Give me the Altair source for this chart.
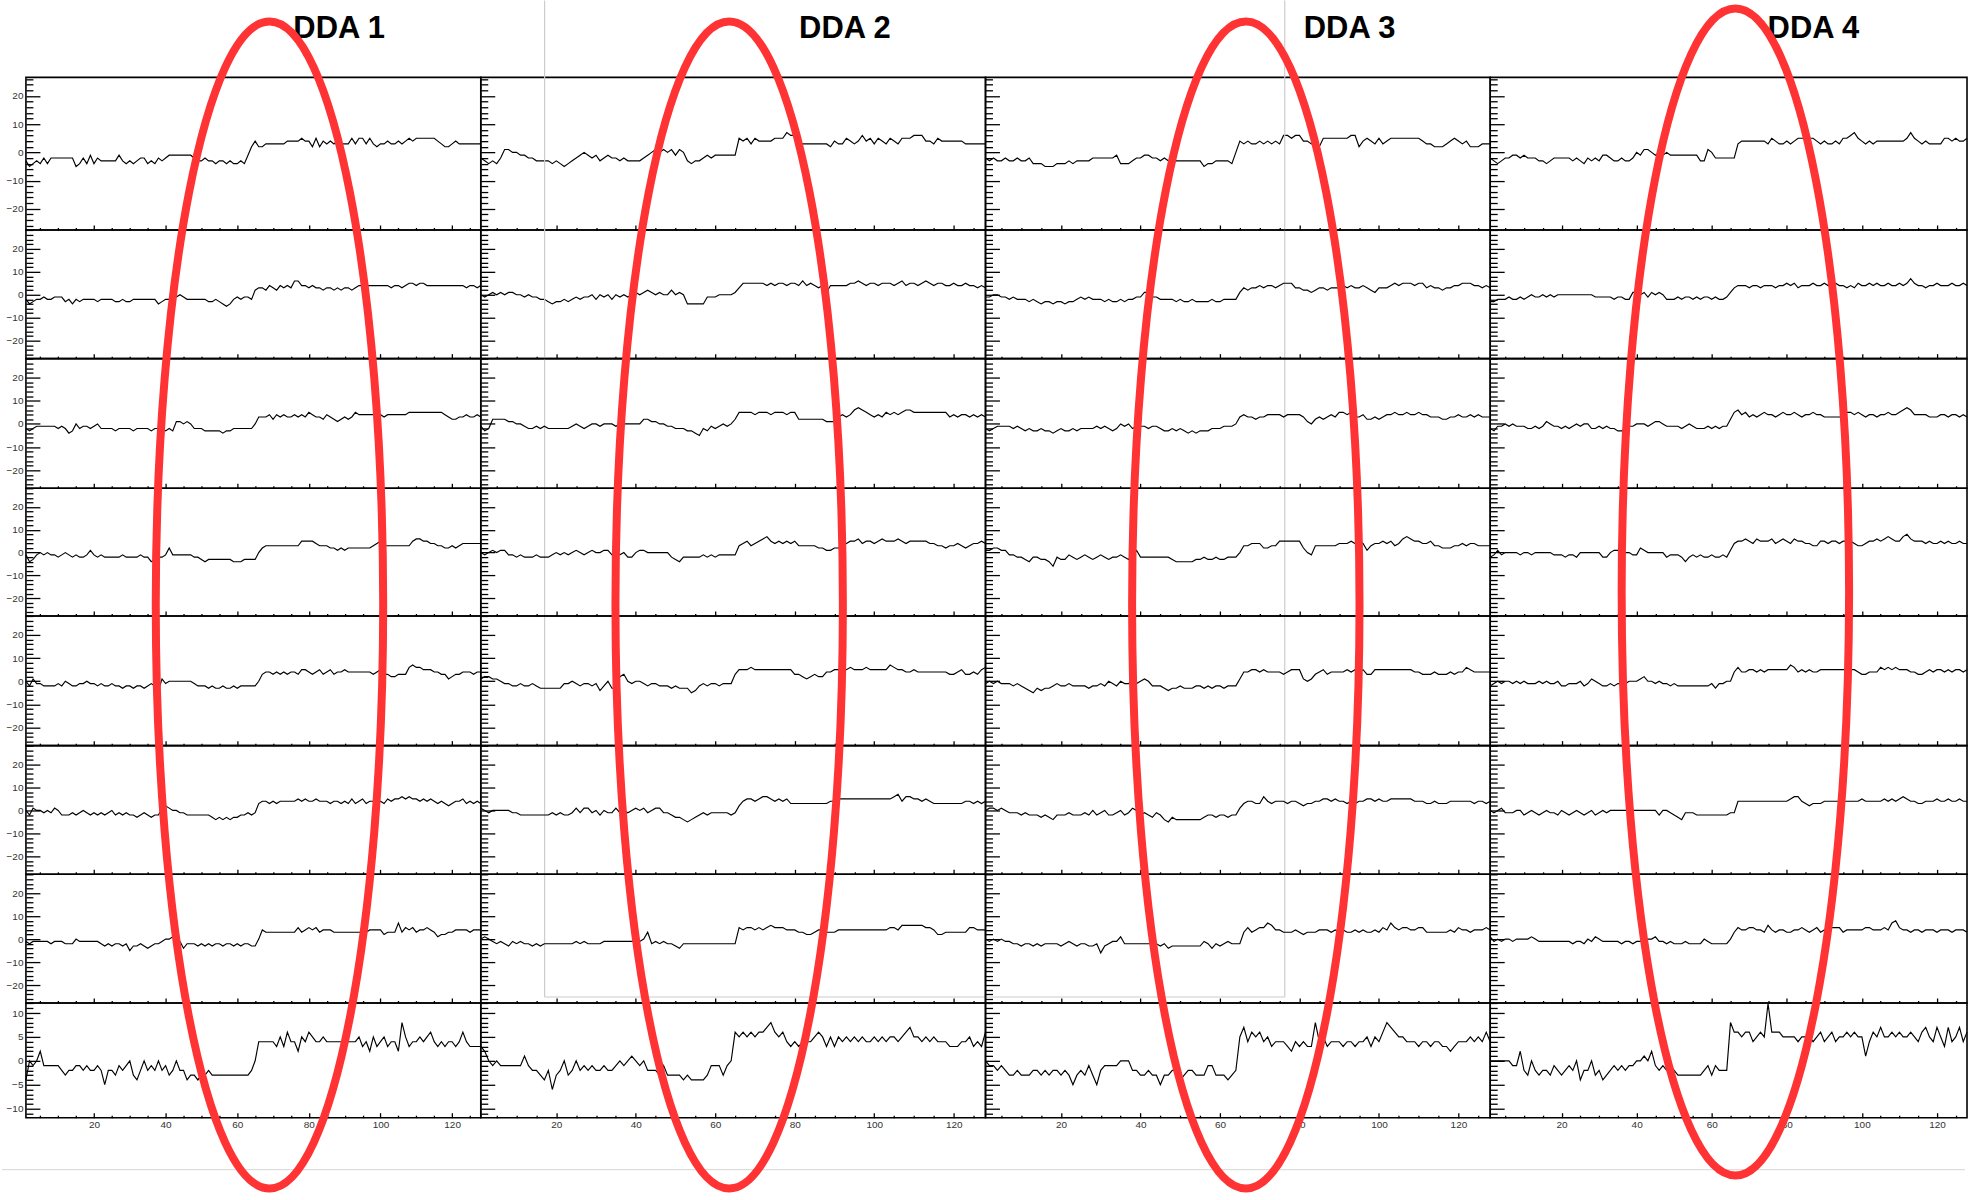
import altair as alt
import pandas as pd

# ---------------- data: 4 DDA columns x 8 channels, 128 samples each ----------------
dda1_ch1 = [-3,-5,-4,-3,-4,-2,-4,-2,-2,-2,-2,-2,-2,-2,-5,-4,-2,-4,-1,-4,-2,-3,-3,-3,-3,-3,-1,-3,-4,-3,-4,-3,-2,-2,-4,-3,-4,-2,-3,-2,-1,-1,-1,-1,-1,-1,-1,-2,-3,-3,-2,-3,-3,-4,-3,-3,-4,-3,-4,-4,-3,-4,-1,2,4,2,2,3,3,3,3,3,3,4,4,4,4,5,4,4,2,5,2,4,3,4,3,4,3,3,3,5,3,5,5,3,5,3,2,3,3,4,3,3,4,3,4,5,4,5,5,5,5,5,5,4,3,2,2,3,4,3,3,3,3,3,3,3]
dda2_ch1 = [-2,-3,-4,-3,-4,-2,1,1,0,0,-1,-1,-2,-2,-3,-3,-3,-3,-4,-3,-4,-5,-4,-3,-2,-1,0,-1,-2,-1,-3,-2,-1,-2,-2,-3,-2,-3,-3,-3,-3,-2,-1,0,1,0,1,0,1,-1,1,0,-3,-4,-3,-3,-2,-1,-2,-1,-1,-1,-1,-1,-1,5,4,5,3,5,4,4,4,4,5,5,5,7,6,6,3,3,3,3,3,3,3,3,2,4,3,3,5,4,3,4,6,4,5,3,5,4,3,5,4,3,5,5,5,6,6,6,4,4,3,5,4,4,4,4,4,4,3,3,3,3,3,3]
dda3_ch1 = [-2,-3,-2,-3,-3,-2,-3,-3,-2,-3,-3,-2,-4,-4,-4,-5,-5,-5,-4,-4,-4,-3,-4,-3,-3,-3,-3,-2,-2,-2,-2,-2,-2,-1,-4,-4,-4,-3,-2,-2,-1,-1,-2,-2,-3,-2,-3,-2,-3,-3,-3,-3,-3,-3,-3,-5,-4,-4,-3,-3,-3,-3,-4,0,4,3,4,3,3,4,3,4,3,4,3,6,6,5,6,6,4,4,3,3,2,5,5,5,5,5,5,5,6,6,2,4,5,4,3,5,3,4,5,5,5,5,5,5,5,5,4,3,3,2,2,2,3,4,5,4,3,4,2,2,2,3,3,3]
dda4_ch1 = [-2,-3,-4,-3,-2,-2,-1,-1,-2,-1,-2,-2,-2,-3,-3,-4,-3,-2,-2,-2,-2,-2,-3,-2,-3,-4,-2,-3,-2,-3,-1,-1,-2,-3,-3,-2,-3,-3,-2,0,-1,1,1,0,-1,0,-1,0,-1,-1,-1,-1,-1,-1,-1,-1,-3,-3,1,0,-2,-2,-2,-2,-2,-2,3,4,4,4,4,4,4,4,3,5,4,3,3,4,3,4,5,5,5,5,5,4,3,4,3,3,4,3,5,5,6,7,5,4,3,4,3,4,4,4,4,4,4,4,4,5,7,5,4,3,4,3,3,3,3,5,5,4,5,4,4,5]

dda1_ch2 = [-2,-4,-3,-2,-2,-1,-2,-2,-1,-1,-1,-3,-2,-4,-2,-3,-2,-2,-2,-2,-3,-2,-2,-2,-2,-3,-3,-2,-3,-3,-2,-2,-2,-2,-2,-2,-2,-4,-3,-2,-2,1,-1,0,-1,-2,-2,-2,-2,-2,-2,-3,-3,-2,-3,-4,-5,-4,-2,-1,-2,-1,-1,-2,2,3,3,2,4,3,2,4,3,4,3,6,6,4,4,3,4,3,3,2,3,3,2,3,2,3,3,2,3,4,4,4,4,4,4,4,4,4,3,4,4,3,4,5,5,4,5,5,4,4,4,4,4,4,4,4,4,4,4,3,4,4,3,4]
dda2_ch2 = [0,-1,0,1,0,1,0,1,1,0,0,-1,0,-1,-1,-2,-2,-3,-4,-3,-3,-2,-3,-2,-1,-2,-1,-1,0,-2,0,-1,0,-2,0,-1,0,-1,0,1,0,1,2,1,0,1,0,0,2,0,1,0,-4,-4,-4,-4,-4,-1,-1,-1,0,0,0,0,1,3,5,5,5,5,5,5,4,5,4,5,5,4,5,5,4,6,4,5,4,3,4,1,4,4,4,4,4,5,5,6,5,4,5,5,4,5,5,5,4,5,6,4,5,5,4,5,6,5,4,5,5,4,4,5,4,4,5,4,4,3,4,3]
dda3_ch2 = [-1,-1,0,0,-1,-1,-2,-1,-2,-2,-2,-3,-2,-3,-4,-3,-3,-4,-3,-3,-4,-3,-3,-2,-1,-2,-1,-2,-2,-2,-3,-2,-3,-3,-2,-3,-2,-2,-1,-1,1,1,-1,-1,-2,-2,-2,-2,-3,-2,-3,-3,-2,-3,-3,-3,-3,-2,-3,-3,-2,-2,-2,-2,1,3,2,3,3,4,3,4,4,3,4,5,5,5,3,3,2,2,1,2,3,3,2,3,3,3,4,3,4,3,3,4,3,2,1,3,3,3,4,5,4,5,5,5,4,5,5,3,4,3,3,2,3,3,4,4,5,5,5,4,4,3,4,3]
dda4_ch2 = [-3,-3,-2,-2,-2,-1,-2,-2,-1,-2,-1,0,-1,-1,0,-1,0,-1,0,0,0,0,0,0,0,0,0,0,-1,-1,-1,-1,-1,-2,-1,-1,-2,-2,1,1,0,1,-1,1,0,1,0,-2,-2,-2,-1,-2,-1,-1,-2,-1,-2,-1,-1,-2,-1,-2,-2,-1,1,3,4,4,4,3,4,4,3,4,4,4,3,4,4,5,4,5,3,4,4,4,5,4,4,5,4,4,5,4,4,3,4,3,5,4,4,5,4,5,4,4,5,4,4,5,4,5,7,5,4,4,3,4,4,5,4,4,4,5,4,4,5,4]

dda1_ch3 = [-2,-3,-2,-1,-1,-1,-1,-1,-1,-2,-1,-2,-4,-3,0,-2,-1,-1,-2,-1,0,-2,-2,-2,-2,-3,-2,-2,-2,-2,-3,-2,-2,-2,-2,-3,-2,-2,-2,-3,-2,-3,1,1,0,1,0,-2,-2,-2,-3,-3,-3,-3,-3,-4,-3,-3,-2,-2,-2,-2,-2,-2,0,3,3,3,4,2,4,3,4,3,3,4,3,4,3,5,4,3,3,2,4,3,2,1,2,3,2,3,5,4,4,4,4,4,4,4,3,4,4,4,4,4,4,5,5,5,5,5,5,5,5,5,5,4,3,2,2,3,3,4,3,3,4,3]
dda2_ch3 = [-1,-3,-2,2,2,2,2,1,1,0,0,-1,-2,-2,-1,-2,-1,-2,-2,-2,-2,-2,-2,-1,0,-1,-2,-1,0,0,-1,0,0,0,-1,0,0,0,0,0,0,2,2,1,1,0,0,-1,-1,-2,-2,-2,-3,-3,-4,-5,-2,-3,-1,-2,-1,0,-1,0,2,5,5,5,5,4,5,5,5,4,5,5,5,4,5,5,2,2,2,2,2,2,2,1,1,1,3,4,3,4,6,7,6,5,4,3,4,3,5,4,5,4,5,6,6,5,5,5,5,5,5,5,5,5,3,4,3,4,4,3,4,3,4,3]
dda3_ch3 = [-2,-3,-2,-1,-1,-1,-1,-2,-1,-2,-3,-2,-3,-3,-2,-3,-3,-4,-3,-2,-3,-3,-2,-3,-2,-2,-2,-2,-1,-2,-1,-2,-3,-2,0,-1,0,-2,-1,-1,-1,-2,-1,-1,-2,-3,-3,-2,-3,-2,-3,-4,-3,-4,-3,-3,-3,-2,-2,-2,-1,-1,-1,0,3,4,3,3,2,3,3,4,4,4,4,3,4,4,4,4,3,1,0,2,3,2,3,4,3,5,5,4,5,3,3,4,2,2,3,2,3,4,4,5,4,4,5,4,4,5,4,4,3,3,3,2,2,3,3,4,3,3,4,3,4,3,3,3]
dda4_ch3 = [-2,-3,-1,-1,0,-1,0,-1,-1,-1,-2,-2,-1,-2,-1,1,0,-1,-1,-2,-1,-2,-1,0,-1,0,0,-2,-2,-1,-2,-1,-2,-2,-3,-3,-2,-1,-1,0,0,0,-1,0,1,1,0,-1,-1,-1,-1,-2,-1,0,-1,-2,-2,-2,-1,-2,-1,-2,-1,-1,2,5,6,4,5,3,4,3,4,5,4,4,3,4,5,4,4,5,4,3,4,4,5,4,4,3,3,3,3,3,3,5,5,4,5,4,3,4,4,3,4,4,5,4,4,5,6,7,6,4,4,4,4,3,3,3,4,4,3,4,4,3,4,3]

dda1_ch4 = [-1,-4,-3,-1,0,-1,0,-1,-1,-2,-1,0,-1,-2,-1,-2,-2,-1,1,-1,-2,-1,-2,-2,-2,-2,-2,-1,-2,-2,-2,-2,-1,-2,-2,-4,-3,-2,-2,-1,2,-1,-1,-1,-1,-1,-1,-2,-2,-3,-4,-3,-3,-3,-3,-3,-3,-3,-4,-4,-4,-3,-3,-3,-3,0,2,3,3,3,3,3,3,3,3,3,3,5,5,5,5,4,3,3,3,2,2,1,2,1,2,2,2,2,2,2,2,3,4,5,3,3,3,3,3,3,3,3,5,6,6,5,5,4,4,3,3,2,2,3,2,3,4,4,4,4,4,4]
dda2_ch4 = [0,-1,0,1,0,1,1,-1,-1,-2,-1,-2,-2,-2,-1,-2,-2,-2,-1,0,-1,0,-1,0,1,0,-1,0,1,0,0,1,1,-1,0,-1,0,-2,-2,0,1,1,0,0,0,0,0,0,-2,-3,-4,-2,-2,-2,-2,-2,-1,-2,-1,-2,-1,-1,-1,-1,-1,3,4,5,3,4,5,6,7,5,4,5,4,5,4,5,3,3,3,3,3,2,2,1,1,2,2,3,4,5,5,6,4,5,5,4,5,6,5,5,5,6,5,4,5,5,5,5,5,4,4,3,3,2,3,3,4,3,2,3,4,4,5,4]
dda3_ch4 = [1,1,2,2,1,1,-1,-1,-2,-2,-3,-4,-2,-2,-3,-3,-4,-6,-2,-3,-3,-1,-2,-3,-2,-1,-2,-3,-2,-1,-2,-3,-2,-2,-1,-2,-3,0,1,-2,-2,-2,-2,-2,-2,-2,-2,-3,-4,-4,-4,-4,-4,-3,-3,-2,-3,-3,-2,-3,-3,-2,-2,-2,0,3,3,4,4,4,2,2,3,3,5,5,5,5,5,5,2,0,-1,3,3,3,3,3,3,4,4,4,5,4,5,4,1,3,4,4,5,4,5,3,4,6,7,6,5,5,4,4,5,3,3,2,2,2,3,3,4,3,4,4,3,3,3,3]
dda4_ch4 = [-2,-1,1,-1,0,0,0,0,-1,0,0,-1,0,0,0,0,0,-1,-1,-1,-2,-1,-1,-2,0,0,0,0,0,0,-2,-2,0,1,1,-1,0,0,-1,-1,2,1,0,0,0,0,0,-2,-1,-1,-1,-2,-4,-2,-1,-2,-1,-2,-2,-1,-2,-2,-1,-2,1,4,5,5,6,5,4,6,5,5,5,6,4,5,6,5,4,6,5,5,4,4,3,3,5,5,4,5,5,4,5,5,5,4,3,3,4,5,5,6,5,6,7,6,5,5,7,8,6,5,5,5,4,5,4,4,5,4,5,4,4,5,4,4]

dda1_ch5 = [0,-2,1,-1,-1,-2,-2,-2,-2,-1,-2,0,-1,-2,-2,-1,-1,0,-1,-1,-2,-1,-2,-2,-1,-2,-2,-3,-2,-2,-3,-2,-2,-3,-2,-1,-2,-4,1,-1,0,0,0,0,0,0,0,-1,-2,-2,-2,-3,-2,-3,-3,-2,-3,-3,-2,-3,-2,-2,-2,-2,-2,0,3,4,4,3,4,3,4,3,4,4,3,5,5,4,3,4,5,3,4,5,3,4,4,5,4,4,4,4,4,4,4,3,4,5,3,3,2,2,3,3,3,6,7,6,6,5,5,5,4,4,3,3,1,2,3,3,4,4,4,3,4,4]
dda2_ch5 = [1,2,2,1,1,0,-1,-1,-2,-2,-1,-2,-2,-1,-2,-3,-3,-3,-3,-3,-3,-1,-1,0,-1,-2,-1,-1,-2,-1,-4,-2,0,-3,-3,2,3,0,-1,0,0,-1,-2,-1,-1,-2,-2,-2,-3,-2,-3,-3,-3,-5,-4,-2,-1,-2,-1,-1,-2,-1,-1,-1,3,5,5,5,6,5,5,5,5,5,5,5,5,5,5,3,3,2,1,2,3,2,2,4,4,5,5,5,5,6,5,5,5,6,5,5,5,5,5,7,6,5,5,4,4,5,4,4,4,4,4,4,4,4,3,3,4,5,3,3,4,3,5,6]
dda3_ch5 = [-1,0,-1,0,-1,-1,-1,-2,-1,-2,-3,-4,-5,-3,-4,-3,-3,-2,-1,-2,-2,-1,-2,-2,-2,-2,-3,-2,-2,-1,-2,0,-1,-2,0,-1,-1,0,-1,0,1,0,-2,-2,-2,-3,-4,-3,-3,-2,-3,-3,-3,-2,-2,-3,-2,-3,-2,-2,-3,-2,-2,-2,1,4,4,5,5,4,5,4,4,4,4,3,4,5,5,5,1,0,1,3,4,5,3,4,4,4,4,5,4,5,4,5,3,3,5,5,5,5,5,5,5,5,5,5,4,4,3,3,3,4,3,3,3,4,3,4,4,6,5,4,4,4,4,4]
dda4_ch5 = [-2,-1,0,-1,0,0,-1,0,-1,0,-1,-1,-1,0,-1,0,-1,-1,0,-2,-2,-1,-1,-1,0,-2,-1,1,0,-1,-2,-2,-1,-2,-1,-1,-1,0,0,0,1,2,0,0,-1,0,-1,-1,-2,-1,-2,-2,-2,-2,-2,-2,-2,-2,-2,-1,-3,-1,-1,0,0,4,6,4,4,5,5,4,5,4,5,5,5,5,5,5,7,6,4,5,4,5,4,4,5,5,5,5,5,5,5,5,5,5,4,3,3,4,4,4,6,5,6,5,6,5,5,5,4,4,3,3,4,5,4,5,5,4,5,4,5,5,4,5]

dda1_ch6 = [0,-2,1,0,0,-1,0,-1,1,0,-2,-2,-2,-1,-2,-1,0,-1,-2,-1,-2,-1,-2,-1,0,-2,-1,-2,-1,-2,-2,-3,-2,-1,-2,-3,-2,-2,1,2,1,0,0,-1,-1,-2,-2,-2,-2,-2,-2,-2,-3,-4,-3,-4,-3,-4,-3,-3,-2,-2,-1,-2,-1,3,4,4,3,4,3,4,4,4,4,4,5,4,5,4,4,5,4,4,4,3,4,4,3,4,3,5,3,4,5,3,4,4,3,4,3,5,4,5,5,6,5,6,5,5,4,5,4,5,4,3,4,3,2,3,4,4,5,3,4,3,4,3]
dda2_ch6 = [1,0,-1,0,0,0,0,0,-1,-1,-2,-2,-2,-2,-2,-2,-2,-2,-1,-2,-1,-2,-2,-1,1,-1,1,1,-1,0,-2,0,-1,-1,1,-1,0,-1,0,1,0,1,-1,0,1,1,-1,-1,-2,-3,-3,-4,-5,-4,-3,-2,-1,-2,-1,-1,-1,-1,-1,-2,-1,2,4,5,5,4,5,6,6,5,4,5,4,5,3,3,3,3,3,3,3,3,3,3,4,4,5,5,5,5,5,5,5,5,5,5,5,5,5,5,6,7,4,6,6,5,5,4,5,4,3,3,3,3,3,3,3,3,4,4,3,4,3,4]
dda3_ch6 = [0,1,1,0,1,0,-1,-1,-1,-2,-1,-2,-2,-2,-3,-2,-3,-4,-2,-2,-2,-1,-2,-2,-2,-1,-2,0,-2,-1,0,-2,-2,-1,0,-2,-1,1,0,-2,-1,-2,-3,-1,-2,-4,-5,-3,-4,-4,-4,-4,-4,-4,-4,-3,-2,-2,-3,-2,-2,-3,-2,-2,1,3,4,4,3,3,6,4,3,4,4,4,3,4,4,3,2,3,3,4,4,5,5,4,5,4,4,3,4,3,4,4,5,5,4,5,4,4,5,5,5,5,5,5,4,4,4,3,3,4,3,3,3,4,4,4,4,4,4,3,4,4,3,4]
dda4_ch6 = [0,-1,0,1,-1,-1,-1,0,0,-2,-1,0,-1,-2,-1,0,-1,-1,-2,0,-1,-2,-1,0,-1,-2,-1,0,-2,-1,0,-1,0,0,0,0,0,0,0,0,0,0,0,0,0,-2,0,0,-1,-2,-3,-4,-1,-1,-1,-2,-2,-2,-2,-2,-2,-2,-2,-2,-1,-1,4,4,4,4,4,4,4,4,4,4,4,4,4,4,5,6,6,4,3,2,3,3,3,4,4,4,4,4,4,4,4,4,4,5,4,4,4,4,4,5,4,5,4,5,6,5,4,4,3,3,4,4,4,5,4,4,5,4,4,5,4,4]

dda1_ch7 = [-1,-2,-1,-1,-1,-1,-1,-2,-1,-1,-1,-2,-2,-2,0,-1,-1,-1,-1,-1,-1,-2,-3,-2,-3,-2,-2,-3,-2,-5,-3,-3,-2,-3,-4,-3,-2,-2,-1,0,0,1,-1,-1,-4,-2,-2,-2,-3,-2,-3,-2,-3,-2,-2,-3,-2,-2,-3,-2,-3,-2,-2,-3,-3,0,4,3,3,3,3,3,3,3,3,3,5,3,4,5,4,5,3,4,4,4,3,3,3,3,3,3,3,3,3,3,4,4,4,4,2,3,3,3,7,3,5,4,5,3,4,4,5,4,3,1,2,2,3,3,4,4,4,4,3,4,4,4]
dda2_ch7 = [0,1,0,-1,-2,-1,-2,-3,-1,-2,-1,-2,-2,-3,-2,-3,-2,-2,-2,-2,-2,-2,-2,-2,-1,-2,-1,-2,-2,-2,-2,-1,-1,-1,-1,-1,-1,-1,-1,-1,-1,0,3,-2,-1,-2,-1,-2,-2,-3,-4,-2,-2,-2,-2,-2,-2,-2,-2,-2,-2,-2,-2,-2,-2,5,4,5,5,4,5,4,5,6,5,5,5,4,4,4,3,3,2,2,3,4,4,3,3,3,4,4,4,4,4,4,4,4,4,4,4,4,4,5,5,4,6,6,6,6,6,6,5,5,4,2,2,3,3,3,3,3,3,5,5,4,4,4]
dda3_ch7 = [0,-1,0,-1,0,-1,-1,-2,-2,-3,-2,-2,-3,-2,-3,-2,-2,-2,-2,-3,-2,-1,-2,-3,-2,-2,-3,-3,-2,-6,-3,-2,-1,-1,1,-2,-2,-2,-2,-2,-2,-2,-2,-2,-3,-2,-4,-3,-3,-3,-3,-3,-3,-3,-3,-1,-2,-4,-2,-3,-2,-1,-2,-2,-2,3,5,3,4,5,5,7,6,4,4,3,3,3,4,3,2,3,3,3,4,4,4,3,4,3,4,3,3,4,3,4,3,3,4,3,5,4,7,5,4,5,5,4,4,5,5,3,3,3,3,3,3,4,3,5,4,4,3,4,4,4,5,4]
dda4_ch7 = [1,-1,0,-1,0,0,-1,0,0,0,0,1,0,-1,-1,-1,-1,-1,-1,-1,-1,-1,-2,-1,-1,-2,0,-1,1,0,-1,-1,-1,-1,-1,-2,-1,-1,-2,-1,-1,-1,0,0,1,-1,-1,-2,-1,-2,-2,-2,-1,-2,-2,-2,-2,0,-1,-2,-2,-2,-2,-2,0,3,5,4,4,5,5,4,4,3,6,4,3,4,4,3,3,4,4,5,4,3,4,5,3,4,4,5,5,5,3,4,4,4,4,4,5,5,4,4,4,5,4,7,8,5,4,4,3,4,4,3,4,4,4,3,4,4,4,3,4,4,4,3]

dda1_ch8 = [-4,0,-1,0,2,-1,-1,-1,-1,-1,-2,-3,-2,-2,-1,-1,-2,-1,-2,-2,-1,-2,-5,-2,-2,-3,-1,-2,-1,0,-3,-4,-2,0,-2,-1,-2,0,-2,-1,-3,-2,0,-2,-2,-4,-3,-3,-4,-3,-3,-2,-3,-3,-3,-3,-3,-3,-3,-3,-3,-3,-3,-2,0,4,4,4,4,4,3,5,3,6,4,4,2,5,4,6,5,4,4,5,4,4,4,4,4,4,4,4,4,5,3,4,2,5,3,4,5,3,4,4,2,8,5,3,4,4,5,4,5,6,4,3,4,3,4,4,3,4,6,4,3,3,3,3]
dda2_ch8 = [3,2,0,-1,0,-1,-1,-1,-1,-1,-1,1,-1,-2,-2,-3,-4,-2,-6,-3,-2,0,-3,-2,0,-2,-1,-2,-1,-2,-2,-1,-2,-2,-1,0,-1,0,1,0,-1,0,-2,-2,-2,-3,-1,-3,-3,-3,-3,-4,-3,-4,-4,-4,-4,-3,-1,-1,-1,-3,-1,0,6,5,6,5,6,5,6,6,7,8,6,5,6,4,3,4,3,4,4,4,5,6,5,3,5,3,5,4,5,4,5,4,5,4,4,5,4,5,4,5,5,4,5,6,7,5,5,4,5,4,5,4,4,4,3,3,3,4,4,5,3,4,3,6]
dda3_ch8 = [0,-1,-1,-2,-1,-2,-3,-3,-2,-3,-3,-3,-2,-2,-3,-2,-3,-2,-2,-3,-2,-3,-5,-3,-2,-3,-1,-3,-5,-2,-1,-1,-1,-1,0,0,0,-2,-2,-3,-3,-2,-3,-3,-5,-3,-3,-2,-2,-4,-3,-2,-2,-3,-3,-3,-1,-1,-3,-3,-3,-4,-3,-2,5,7,4,6,5,6,4,5,3,4,4,4,3,2,4,3,4,3,3,8,4,5,3,4,4,4,3,4,4,3,4,4,5,3,5,4,6,8,7,6,5,5,4,4,4,3,4,4,3,4,4,3,3,2,3,4,4,4,5,4,5,4,6,4]
dda4_ch8 = [0,0,0,0,0,0,-1,-1,2,-2,-3,0,-2,-3,-2,-2,-3,-1,-2,-3,-2,-1,-2,0,-4,-2,-2,0,-3,-2,-4,-3,-2,-1,-2,-1,-2,-1,-1,0,0,1,0,2,-1,-2,-1,-2,-1,-2,-3,-3,-3,-3,-3,-3,-3,-2,-1,-3,-1,-2,-2,-2,8,6,6,5,6,6,4,5,6,5,12,6,6,6,5,5,5,5,4,5,5,5,4,5,6,4,5,6,4,5,5,6,5,6,5,5,1,4,6,5,7,5,5,6,5,6,5,5,6,5,4,6,7,5,4,7,5,3,7,4,5,7,4,6]

columns = [
    [dda1_ch1, dda1_ch2, dda1_ch3, dda1_ch4, dda1_ch5, dda1_ch6, dda1_ch7, dda1_ch8],
    [dda2_ch1, dda2_ch2, dda2_ch3, dda2_ch4, dda2_ch5, dda2_ch6, dda2_ch7, dda2_ch8],
    [dda3_ch1, dda3_ch2, dda3_ch3, dda3_ch4, dda3_ch5, dda3_ch6, dda3_ch7, dda3_ch8],
    [dda4_ch1, dda4_ch2, dda4_ch3, dda4_ch4, dda4_ch5, dda4_ch6, dda4_ch7, dda4_ch8],
]
titles = ["DDA 1", "DDA 2", "DDA 3", "DDA 4"]

# axis tick values
x_major = [20, 40, 60, 80, 100, 120]
x_minor = [5, 10, 15, 25, 30, 35, 45, 50, 55, 65, 70, 75, 85, 90, 95, 105, 110, 115, 125]
y_major = [-20, -10, 0, 10, 20]
y_minor_top = [-26, -24, -22, -18, -16, -14, -12, -8, -6, -4, -2, 2, 4, 6, 8, 12, 14, 16, 18, 22, 24, 26]
y_minor = [-26, -24, -22, -18, -16, -14, -12, -8, -6, -4, -2, 2, 4, 6, 8, 12, 14, 16, 18, 22, 24, 26, 28]
y_major_last = [-10, -5, 0, 5, 10]
y_minor_last = [-11, -9, -8, -7, -6, -4, -3, -2, -1, 1, 2, 3, 4, 6, 7, 8, 9, 11, 12]

# highlight ellipse centres (sample index, per DDA)
ellipse_x = [69.0, 63.5, 66.5, 66.3]

# ---------------- layout / style ----------------
COL_W = [456, 506, 506, 478]
ROW_H = [153, 129, 130, 128, 130, 129, 129, 115]
Y_DOM = [[-27.5, 26.6]] + [[-27.8, 28.2]] * 6 + [[-11.9, 12.1]]
TITLE_DX = [86, 112, 112, 85]
ELL_DY = [-399, -399, -399, -412]
RX, RY = 114, 585
ELLIPSE_PATH = f"M0,-{RY}A{RX},{RY},0,1,1,0,{RY}A{RX},{RY},0,1,1,0,-{RY}Z"
FONT = "Liberation Sans"


def axis(values, size, labels, orient, pad=3):
    return alt.Axis(values=values, tickSize=size, offset=-size, orient=orient,
                    domain=False, grid=False, labels=labels, title=None,
                    tickColor="black", tickWidth=1.3, labelFont=FONT,
                    labelFontSize=10, labelColor="#333", labelPadding=pad,
                    labelFlush=False, labelOverlap=False)


one_row = pd.DataFrame({"k": [0]})


def panel(col, row):
    vals = columns[col][row]
    df = pd.DataFrame({"x": list(range(1, len(vals) + 1)), "y": vals})
    last = row == 7
    xs = alt.Scale(domain=[1, 128], nice=False, zero=False)
    ys = alt.Scale(domain=Y_DOM[row], nice=False, zero=False)
    ymaj = y_major_last if last else y_major
    ymin = y_minor_last if last else (y_minor_top if row == 0 else y_minor)
    base = alt.Chart(df)
    main = base.mark_line(color="black", strokeWidth=1.15).encode(
        x=alt.X("x:Q", scale=xs, axis=axis(x_major, 5, last, "bottom", pad=2)),
        y=alt.Y("y:Q", scale=ys, axis=axis(ymaj, 14, col == 0, "left")),
    )
    minor = base.mark_line(opacity=0).encode(
        x=alt.X("x:Q", scale=xs, axis=axis(x_minor, 2.5, False, "bottom")),
        y=alt.Y("y:Q", scale=ys, axis=axis(ymin, 7, False, "left")),
    )
    layers = [main, minor]
    if row == 1 and col == 1:
        # faint grey window outline seen in the screenshot
        for xv in (64, 806):
            layers.append(alt.Chart(one_row).mark_rule(color="#cccccc", strokeWidth=1.2).encode(
                x=alt.value(xv), y=alt.value(-230), y2=alt.value(769)))
        layers.append(alt.Chart(one_row).mark_rule(color="#cccccc", strokeWidth=1.2).encode(
            x=alt.value(64), x2=alt.value(806), y=alt.value(769)))
    if last and col == 0:
        layers.append(alt.Chart(one_row).mark_rule(color="#dddddd", strokeWidth=1.2).encode(
            x=alt.value(-24), x2=alt.value(1944), y=alt.value(167)))
    if last:
        edf = pd.DataFrame({"cx": [ellipse_x[col]]})
        layers.append(alt.Chart(edf).mark_point(
            shape=ELLIPSE_PATH, size=4, filled=False, color="#ff3333",
            strokeWidth=8, opacity=1).encode(
            x=alt.X("cx:Q", scale=xs, axis=None),
            y=alt.value(ELL_DY[col])))
    ch = alt.layer(*layers).resolve_axis(x="independent", y="independent").properties(
        width=COL_W[col], height=ROW_H[row])
    if row == 0:
        ch = ch.properties(title=alt.TitleParams(
            text=titles[col], font=FONT, fontSize=31, fontWeight="bold", color="black",
            anchor="middle", dx=TITLE_DX[col], offset=8, baseline="alphabetic", frame="group"))
    return ch


cells = [panel(c, r) for r in range(8) for c in range(4)]

chart = alt.concat(*cells, columns=4, spacing=0, bounds="flush", align="each").properties(
    padding={"top": -10, "left": 0, "right": 0, "bottom": 0}, background="white"
).configure_view(stroke="black", strokeWidth=1.6)

chart.save("out.html", embed_options={"renderer": "svg", "actions": False})
